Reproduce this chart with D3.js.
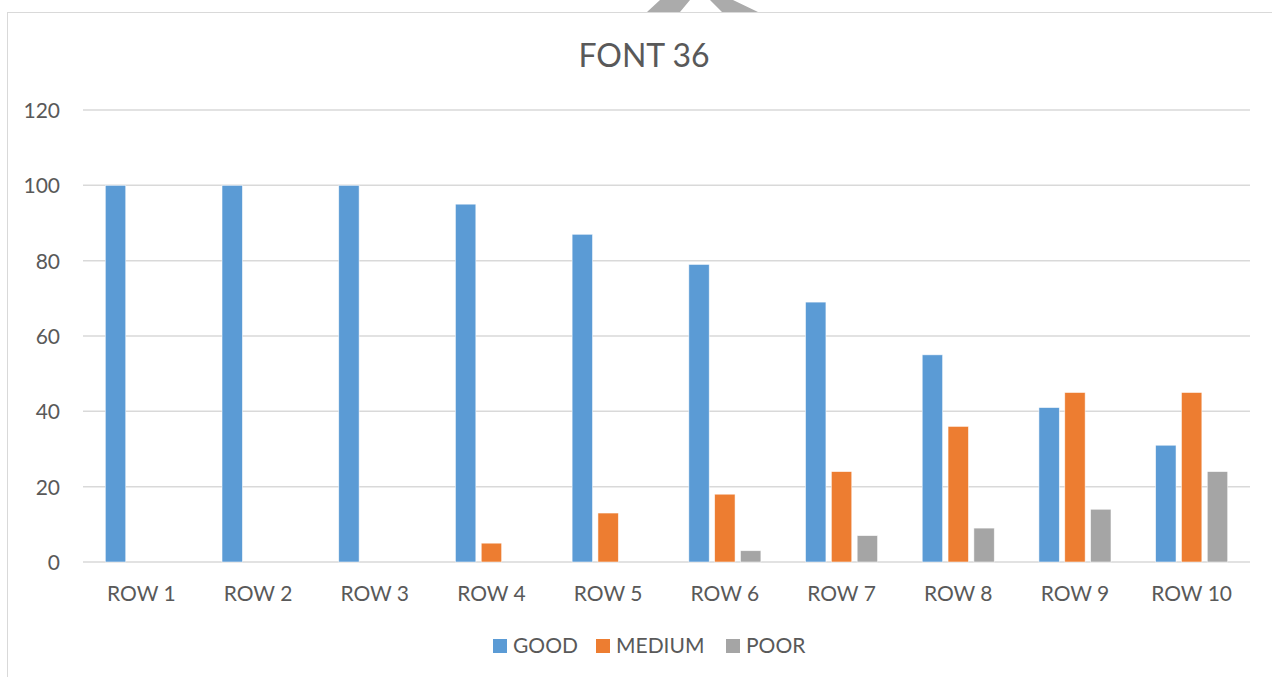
<!DOCTYPE html>
<html>
<head>
<meta charset="utf-8">
<script src="https://cdn.jsdelivr.net/npm/d3@7"></script>
<style>
  html, body { margin: 0; padding: 0; background: #fff; overflow: hidden; }
  svg { display: block; }
  text { font-family: Lato, "Open Sans", sans-serif; fill: #595959; }
</style>
</head>
<body>
<svg id="chart" width="1272" height="677"></svg>
<script>
const categories = ["ROW 1", "ROW 2", "ROW 3", "ROW 4", "ROW 5", "ROW 6", "ROW 7", "ROW 8", "ROW 9", "ROW 10"];
const seriesNames = ["GOOD", "MEDIUM", "POOR"];
const good   = [100, 100, 100, 95, 87, 79, 69, 55, 41, 31];
const medium = [0, 0, 0, 5, 13, 18, 24, 36, 45, 45];
const poor   = [0, 0, 0, 0, 0, 3, 7, 9, 14, 24];
const yTicks = [0, 20, 40, 60, 80, 100, 120];
const colors = ["#5B9BD5", "#ED7D31", "#A5A5A5"];
const title = "FONT 36";

const seriesValues = [good, medium, poor];
const svg = d3.select("#chart");

// decorative watermark fragment above the chart frame
svg.append("path")
  .attr("d", "M660,0 L690,0 L680,12 L647,12 Z M710,0 L733,0 L758,12 L722,12 Z")
  .attr("fill", "#ababab");

// chart frame (extends past the window on the right / bottom)
svg.append("rect")
  .attr("x", 7.5).attr("y", 12.5)
  .attr("width", 1400).attr("height", 800)
  .attr("fill", "#fff")
  .attr("stroke", "#d9d9d9").attr("stroke-width", 1);

const plot = { left: 83, right: 1250, top: 110, bottom: 562 };

const x0 = d3.scaleBand()
  .domain(categories)
  .range([plot.left, plot.right])
  .paddingInner(0.3825)
  .paddingOuter(0.19125);

const x1 = d3.scaleBand()
  .domain(seriesNames)
  .range([0, x0.bandwidth()])
  .paddingInner(0.21)
  .paddingOuter(0);

const y = d3.scaleLinear().domain([0, 120]).range([plot.bottom, plot.top]);

// gridlines
svg.append("g")
  .selectAll("line")
  .data(yTicks)
  .join("line")
  .attr("x1", plot.left).attr("x2", plot.right)
  .attr("y1", d => y(d)).attr("y2", d => y(d))
  .attr("stroke", "#d9d9d9").attr("stroke-width", 1.5);

// y axis labels
const yAxis = d3.axisLeft(y).tickValues(yTicks).tickSize(0).tickPadding(0);
const yg = svg.append("g").attr("transform", `translate(60,0)`).call(yAxis);
yg.select(".domain").remove();
yg.selectAll("text")
  .attr("font-size", 21)
  .attr("font-family", "Lato, sans-serif")
  .attr("fill", "#595959")
  .attr("dy", "0.36em");

// x axis labels
const xAxis = d3.axisBottom(x0).tickSize(0).tickPadding(0);
const xg = svg.append("g").attr("transform", `translate(0,${plot.bottom})`).call(xAxis);
xg.select(".domain").remove();
xg.selectAll("text")
  .attr("font-size", 21)
  .attr("font-family", "Lato, sans-serif")
  .attr("fill", "#595959")
  .attr("dy", null)
  .attr("y", 38.5);

// bars
const rows = categories.map((c, i) => ({
  cat: c,
  vals: seriesNames.map((s, j) => ({ s, j, v: seriesValues[j][i] }))
}));

svg.append("g")
  .selectAll("g")
  .data(rows)
  .join("g")
  .attr("transform", d => `translate(${x0(d.cat)},0)`)
  .selectAll("rect")
  .data(d => d.vals.filter(v => v.v > 0))
  .join("rect")
  .attr("x", d => x1(d.s))
  .attr("width", x1.bandwidth())
  .attr("y", d => y(d.v))
  .attr("height", d => y(0) - y(d.v))
  .attr("fill", d => colors[d.j])
  .attr("stroke", "rgba(255,255,255,0.7)")
  .attr("stroke-width", 0.75);

// title
svg.append("text")
  .attr("x", 644).attr("y", 67)
  .attr("text-anchor", "middle")
  .attr("font-size", 32)
  .attr("fill", "#595959")
  .text(title);

// legend
const legendItems = [
  { name: seriesNames[0], sx: 493, tx: 513 },
  { name: seriesNames[1], sx: 596, tx: 616 },
  { name: seriesNames[2], sx: 726, tx: 746 }
];
const lg = svg.append("g");
lg.selectAll("rect")
  .data(legendItems)
  .join("rect")
  .attr("x", d => d.sx).attr("y", 639)
  .attr("width", 14).attr("height", 14)
  .attr("fill", (d, i) => colors[i]);
lg.selectAll("text")
  .data(legendItems)
  .join("text")
  .attr("x", d => d.tx).attr("y", 653)
  .attr("font-size", 21)
  .text(d => d.name);
</script>
</body>
</html>
